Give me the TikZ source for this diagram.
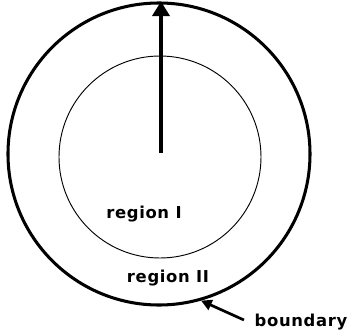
\documentclass[tikz,border=0pt]{standalone}
\usepackage{fontspec}
\setmainfont{DejaVu Sans}
\usepackage{tikz}
\usetikzlibrary{arrows.meta}

\begin{document}
\begin{tikzpicture}[
    x=0.03cm, y=-0.03cm,
    ring/.style={draw, circle, inner sep=0pt},
    label/.style={anchor=base, inner sep=0pt,
                  font=\fontsize{14}{16}\selectfont\bfseries\addfontfeature{LetterSpace=4}},
    vec/.style={line width=2.6pt, -{Triangle[length=4.4mm, width=5.2mm]}},
    pointer/.style={line width=2.3pt, -{Triangle[length=3.2mm, width=3.2mm]}}
  ]
    \useasboundingbox (0,0) rectangle (350,334);
    % rand luar en binnengebied
    \node[ring, line width=2.6pt, minimum size=9.06cm] (outer) at (159,154) {};
    \node[ring, line width=0.8pt, minimum size=6.06cm] (inner) at (160,157) {};
    \coordinate (origin) at (161,153);
    \draw[vec] (origin) -- (origin |- outer.north);
    \node[label] (regionI)  at (144,218) {region I};
    \node[label] (regionII) at (168,283) {region II};
    \node[label, inner xsep=9pt] (boundary) at (301,327) {boundary};
    \draw[pointer] (boundary.west |- 0,320) -- (outer.-74);
\end{tikzpicture}
\end{document}
